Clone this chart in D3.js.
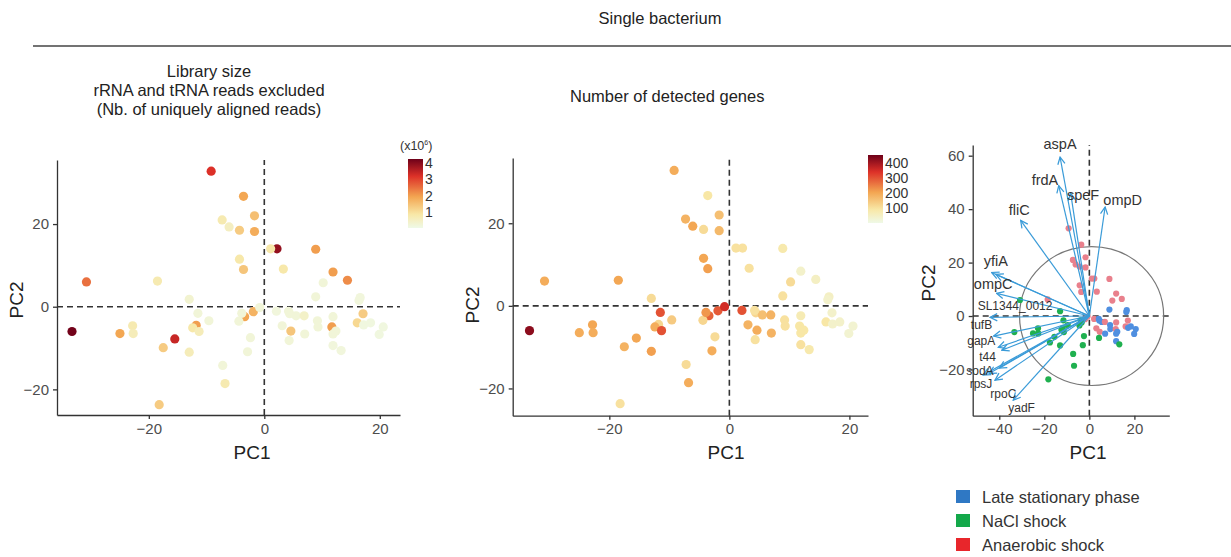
<!DOCTYPE html>
<html>
<head>
<meta charset="utf-8">
<script src="https://cdn.jsdelivr.net/npm/d3@7"></script>
<style>
  body { margin: 0; background: #fff; }
  text { font-family: "Liberation Sans", Arial, sans-serif; }
  .axis path, .axis line { stroke: #333; stroke-width: 1.3; }
  .axis text { font-size: 15px; fill: #4d4d4d; }
</style>
</head>
<body>
<script>
// PCA scores (shared by the three panels)
var pc1 = [-9.2,-3.6,-1.7,-7.3,-6.1,-4.3,-1.7,2.2,1.1,8.9,
           -4.3,-3.6,3.3,11.9,14.4,10.2,-30.8,-18.5,-13.0,8.9,
           16.6,17.1,-1.9,-3.4,-11.8,-12.4,-11.3,-11.5,-9.6,-33.3,
           -25.0,-22.8,-22.7,-15.5,-17.5,-13.0,-7.2,-6.8,-18.2,-2.9,
           -2.4,-4.4,-3.9,2.1,3.1,4.6,4.3,4.4,5.5,6.9,
           7.0,9.2,9.3,11.7,11.9,11.9,13.3,11.9,12.4,16.1,
           17.2,18.4,20.6,19.9,-0.8,4.2,16.4];
var pc2 = [32.8,26.7,22.0,21.0,19.3,18.5,18.2,14.0,14.0,13.9,
           11.5,9.0,9.1,8.4,6.4,5.8,6.0,6.2,1.8,2.4,
           2.2,-1.7,-1.2,-2.4,-4.5,-5.1,-6.0,-1.6,-3.4,-6.0,
           -6.5,-4.6,-6.5,-7.8,-9.9,-11.0,-14.2,-18.6,-23.7,-10.9,
           -7.5,-3.5,-1.6,-1.1,-4.6,-5.9,-8.2,-1.7,-2.2,-2.2,
           -6.6,-3.4,-4.9,-4.9,-2.4,-9.4,-10.6,-6.6,-5.9,-3.9,
           -4.4,-3.9,-4.9,-6.7,-0.2,-1.1,1.5];

// library size (x10^6 reads)
var libSize = [3.2,1.9,1.5,0.7,0.5,1.3,1.8,3.9,0.8,2.0,
               0.8,1.4,0.8,2.0,2.2,0.2,2.5,0.7,0.3,0.2,
               0.15,1.3,1.7,1.9,2.0,0.8,0.6,0.2,0.2,4.2,
               1.9,0.7,0.6,3.4,1.3,0.6,0.2,0.7,1.3,0.2,
               0.2,0.2,0.2,0.15,0.2,1.4,0.2,0.2,0.2,0.4,
               0.2,0.2,0.2,2.0,0.2,0.15,0.15,0.2,0.2,1.1,
               0.1,0.1,0.1,0.1,0.2,0.2,0.15];

// number of detected genes
var nGenes = [190,90,160,180,200,110,170,100,100,80,
              200,210,100,40,50,110,190,200,110,100,
              50,40,290,280,120,190,300,300,140,420,
              190,200,190,200,180,210,110,190,100,190,
              110,120,220,300,180,190,100,120,160,180,
              180,100,100,90,70,100,80,90,90,90,
              40,40,30,30,350,100,40];

// condition: 0 late stationary, 1 NaCl, 2 anaerobic
var group = [2,2,2,2,2,2,2,2,2,2,
             2,2,2,2,2,2,1,2,1,0,
             0,2,2,1,1,1,1,1,1,1,
             1,1,1,1,1,1,1,1,1,1,
             1,1,1,2,2,2,1,0,0,2,
             0,0,0,2,2,0,1,0,0,2,
             0,0,0,0,2,0,0];
var groupNames = ["Late stationary phase", "NaCl shock", "Anaerobic shock"];

// loadings for the biplot
var geneNames = ["aspA","frdA","speF","ompD","fliC","yfiA","","ompC","SL1344_0012",
                 "tufB","gapA","t44","sodA","rpsJ","","rpoC","yadF"];
var loadX = [-13,-13.6,-8.3,7,-30.5,-43.4,-41.5,-41.2,-44.1,-42.5,-40.4,-38.9,-47.1,-41.9,-44.5,-40,-33.8];
var loadY = [59.5,48.8,46,40.8,35.8,16.3,15.6,8.5,-0.5,-7.5,-11.7,-12.8,-22.1,-24,-21.5,-19.5,-31.5];
var labelX = [-13,-19.7,-2.8,14.8,-31.1,-41.5,0,-42.7,-33,-47.9,-48,-45.2,-48.6,-48.1,0,-38.2,-30.1];
var labelY = [64.3,51,45.2,43.5,39.8,20.8,0,12,3.8,-3.4,-9.3,-15.3,-20.3,-25.3,0,-29,-34.3];

var libTicks = [1,2,3,4];
var geneTicks = [100,200,300,400];

function init(){
    var w = 1231;
    var h = 557;

    var svg = d3.select("body")
                .append("svg")
                .attr("width", w)
                .attr("height", h);

    // header
    svg.append("text")
        .attr("x", 660).attr("y", 24)
        .attr("text-anchor", "middle")
        .style("font-size", "16.5px").attr("fill", "#222")
        .text("Single bacterium");
    svg.append("line")
        .attr("x1", 33).attr("x2", 1231)
        .attr("y1", 46).attr("y2", 46)
        .attr("stroke", "#444").attr("stroke-width", 1.5);

    var libTitle = ["Library size", "rRNA and tRNA reads excluded", "(Nb. of uniquely aligned reads)"];
    svg.selectAll(".libtitle")
        .data(libTitle)
        .enter()
        .append("text")
        .attr("class", "libtitle")
        .attr("x", 209)
        .attr("y", function(d, i){ return 77 + i * 19; })
        .attr("text-anchor", "middle")
        .style("font-size", "16.5px").attr("fill", "#222")
        .text(function(d){ return d; });
    svg.append("text")
        .attr("x", 570).attr("y", 102)
        .style("font-size", "16.5px").attr("fill", "#222")
        .text("Number of detected genes");

    // colour scales (pale green-white -> yellow -> orange -> red -> dark red)
    var ramp = ["#eff9e7", "#f8e7a6", "#f3a652", "#dd3128", "#6e0019"];
    var stops = [0, 0.2, 0.45, 0.75, 1];
    var libMax = 4.25, geneMax = 450;
    var libColour = d3.scaleLinear().domain(stops.map(function(t){ return t * libMax; })).range(ramp);
    var geneColour = d3.scaleLinear().domain(stops.map(function(t){ return t * geneMax; })).range(ramp);

    var points = pc1.map(function(d, i){
        return {x: d, y: pc2[i], lib: libSize[i], genes: nGenes[i], g: group[i]};
    });

    function frame(xs, ys, xticks, yticks, axisX, axisY){
        var g = svg.append("g");
        // dashed zero lines
        g.append("line")
            .attr("x1", xs(0)).attr("x2", xs(0))
            .attr("y1", ys.range()[0]).attr("y2", ys.range()[1])
            .attr("stroke", "#333").attr("stroke-width", 1.6)
            .attr("stroke-dasharray", "6,4");
        g.append("line")
            .attr("x1", xs.range()[0]).attr("x2", xs.range()[1])
            .attr("y1", ys(0)).attr("y2", ys(0))
            .attr("stroke", "#333").attr("stroke-width", 1.6)
            .attr("stroke-dasharray", "6,4");
        svg.append("g")
            .attr("class", "axis")
            .attr("transform", "translate(0," + ys.range()[0] + ")")
            .call(d3.axisBottom(xs).tickValues(xticks).tickSize(4).tickSizeOuter(0).tickPadding(4));
        svg.append("g")
            .attr("class", "axis")
            .attr("transform", "translate(" + xs.range()[0] + ",0)")
            .call(d3.axisLeft(ys).tickValues(yticks).tickSize(4).tickSizeOuter(0).tickPadding(4));
        svg.append("text")
            .attr("x", axisX).attr("y", 459)
            .attr("text-anchor", "middle")
            .style("font-size", "19px").attr("fill", "#222")
            .text("PC1");
        svg.append("text")
            .attr("transform", "translate(" + (axisY[0] + 7) + "," + axisY[1] + ") rotate(-90)")
            .attr("text-anchor", "middle")
            .style("font-size", "19px").attr("fill", "#222")
            .text("PC2");
        return g;
    }

    function colourBar(id, x, y0, y1, max, scale, ticks, fmt){
        var grad = svg.append("defs").append("linearGradient")
            .attr("id", id)
            .attr("x1", 0).attr("x2", 0).attr("y1", 1).attr("y2", 0);
        grad.selectAll("stop")
            .data(d3.range(0, 1.0001, 0.05))
            .enter()
            .append("stop")
            .attr("offset", function(t){ return t; })
            .attr("stop-color", function(t){ return scale(t * max); });
        var ys = d3.scaleLinear().domain([0, max]).range([y1, y0]);
        svg.append("rect")
            .attr("x", x).attr("y", y0)
            .attr("width", 15).attr("height", y1 - y0)
            .attr("fill", "url(#" + id + ")");
        svg.selectAll("." + id)
            .data(ticks)
            .enter()
            .append("text")
            .attr("class", id)
            .attr("x", x + 17)
            .attr("y", function(d){ return ys(d); })
            .attr("dy", "0.36em")
            .style("font-size", "14px").attr("fill", "#333")
            .text(fmt);
    }

    // ---- panel 1: library size
    var x1 = d3.scaleLinear().domain([-35.9, 23.5]).range([57, 400]);
    var y1 = d3.scaleLinear().domain([-26.2, 35.5]).range([415, 160]);
    var g1 = frame(x1, y1, [-20, 0, 20], [-20, 0, 20], 252, [16, 300]);
    g1.selectAll("circle")
        .data(points)
        .enter()
        .append("circle")
        .attr("cx", function(d){ return x1(d.x); })
        .attr("cy", function(d){ return y1(d.y); })
        .attr("r", 4.6)
        .attr("fill", function(d){ return libColour(d.lib); });
    colourBar("libbar", 408, 159, 228, libMax, libColour, libTicks, function(d){ return d; });
    var unit = svg.append("text")
        .attr("x", 400).attr("y", 150)
        .style("font-size", "12.5px").attr("fill", "#333");
    unit.append("tspan").text("(x10");
    unit.append("tspan").attr("dy", -5).style("font-size", "7px").text("6");
    unit.append("tspan").attr("dy", 5).text(")");

    // ---- panel 2: detected genes
    var x2 = d3.scaleLinear().domain([-36.1, 23.1]).range([512.7, 868]);
    var y2 = d3.scaleLinear().domain([-26.6, 35.8]).range([415.7, 158]);
    var g2 = frame(x2, y2, [-20, 0, 20], [-20, 0, 20], 726, [472, 305]);
    g2.selectAll("circle")
        .data(points)
        .enter()
        .append("circle")
        .attr("cx", function(d){ return x2(d.x); })
        .attr("cy", function(d){ return y2(d.y); })
        .attr("r", 4.6)
        .attr("fill", function(d){ return geneColour(d.genes); });
    colourBar("genebar", 868, 155, 223, geneMax, geneColour, geneTicks, function(d){ return d; });

    // ---- panel 3: biplot
    var groupColour = ["#4f8fe0", "#1fb04f", "#e9808c"];
    var legendColour = ["#2f78c4", "#13a84a", "#e8262b"];
    var x3 = d3.scaleLinear().domain([-51.8, 35.5]).range([972.7, 1169.3]);
    var y3 = d3.scaleLinear().domain([-37.3, 64]).range([415.7, 145]);
    var g3 = frame(x3, y3, [-40, -20, 0, 20], [-20, 0, 20, 40, 60], 1088, [928, 283]);

    g3.append("ellipse")
        .attr("cx", x3(1)).attr("cy", y3(0))
        .attr("rx", x3(32) - x3(0))
        .attr("ry", y3(0) - y3(26))
        .attr("fill", "none")
        .attr("stroke", "#777").attr("stroke-width", 1.2);

    g3.selectAll("circle.pt")
        .data(points)
        .enter()
        .append("circle")
        .attr("class", "pt")
        .attr("cx", function(d){ return x3(d.x); })
        .attr("cy", function(d){ return y3(d.y); })
        .attr("r", 3.1)
        .attr("fill", function(d){ return groupColour[d.g]; });

    svg.append("defs").append("marker")
        .attr("id", "head")
        .attr("viewBox", "0 0 10 10")
        .attr("refX", 9).attr("refY", 5)
        .attr("markerWidth", 9).attr("markerHeight", 9)
        .attr("markerUnits", "userSpaceOnUse")
        .attr("orient", "auto")
        .append("path")
        .attr("d", "M1,1 L9,5 L1,9")
        .attr("fill", "none")
        .attr("stroke", "#3a9bd8").attr("stroke-width", 1.4);

    g3.selectAll("line.load")
        .data(geneNames)
        .enter()
        .append("line")
        .attr("class", "load")
        .attr("x1", x3(0)).attr("y1", y3(0))
        .attr("x2", function(d, i){ return x3(loadX[i]); })
        .attr("y2", function(d, i){ return y3(loadY[i]); })
        .attr("stroke", "#3a9bd8").attr("stroke-width", 1.2)
        .attr("marker-end", "url(#head)");

    var bigLabels = ["aspA", "frdA", "speF", "ompD", "fliC", "yfiA", "ompC"];
    g3.selectAll("text.gene")
        .data(geneNames.filter(function(d){ return d != ""; }))
        .enter()
        .append("text")
        .attr("class", "gene")
        .attr("x", function(d){ return x3(labelX[geneNames.indexOf(d)]); })
        .attr("y", function(d){ return y3(labelY[geneNames.indexOf(d)]); })
        .attr("dy", "0.36em")
        .attr("text-anchor", "middle")
        .style("font-size", function(d){ return bigLabels.indexOf(d) >= 0 ? "14.5px" : "12px"; })
        .attr("fill", "#333")
        .text(function(d){ return d; });

    // group legend
    var leg = svg.selectAll(".leg")
        .data(groupNames)
        .enter()
        .append("g")
        .attr("class", "leg")
        .attr("transform", function(d, i){ return "translate(956," + (490 + i * 24) + ")"; });
    leg.append("rect")
        .attr("width", 14).attr("height", 13)
        .attr("fill", function(d, i){ return legendColour[i]; });
    leg.append("text")
        .attr("x", 26).attr("y", 7)
        .attr("dy", "0.36em")
        .style("font-size", "16.5px").attr("fill", "#333")
        .text(function(d){ return d; });
}
window.onload = init;
</script>
</body>
</html>
